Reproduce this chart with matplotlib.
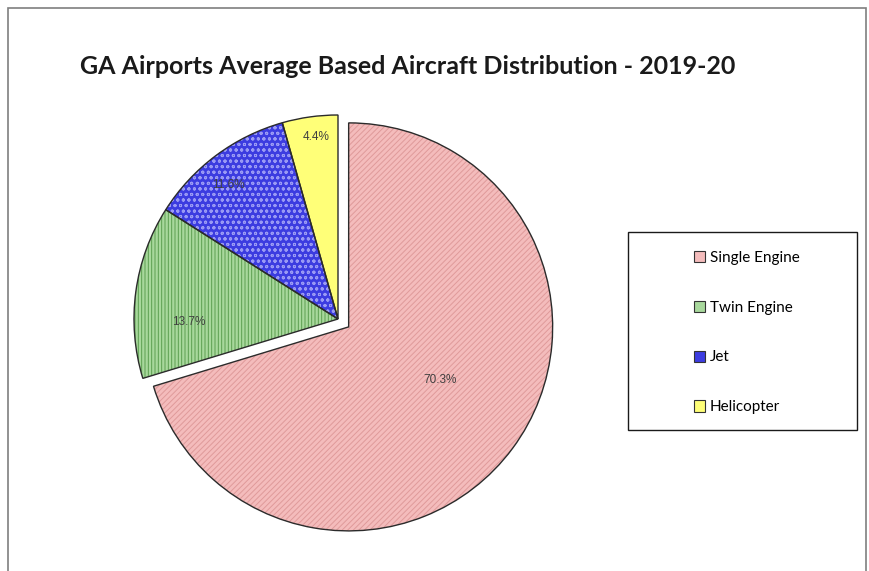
import numpy as np
import matplotlib
matplotlib.use("Agg")
import matplotlib.pyplot as plt
from matplotlib.patches import Rectangle, Patch

# Доли парка базовой авиации (в процентах)
categories = ["Single Engine", "Twin Engine", "Jet", "Helicopter"]
shares = [70.3, 13.7, 11.6, 4.4]

face_colors = ["#f4bcbc", "#a8d89c", "#3c3ce0", "#ffff78"]
hatch_colors = ["#df9a9a", "#5c9e50", "#9a9af4", "#ffff78"]
hatches = ["//////", "|||||", "ooo", ""]
explode = [0.065, 0, 0, 0]

plt.rcParams["hatch.linewidth"] = 0.7

W, H = 869, 571
fig = plt.figure(figsize=(W / 100, H / 100), dpi=100)
fig.patch.set_facecolor("white")

# Оси на всю фигуру: 1 единица = радиус круга в пикселях
R = 204.0
cx, cy = 338.0, 319.0
ax = fig.add_axes([0, 0, 1, 1])

wedges, _ = ax.pie(shares, colors=face_colors, startangle=90, counterclock=False,
                   explode=explode, wedgeprops=dict(linewidth=0))
for w, hc, h in zip(wedges, hatch_colors, hatches):
    w.set_hatch(h)
    w.set_edgecolor(hc)
    w.set_linewidth(0)

# Контуры секторов поверх штриховки
outline, _ = ax.pie(shares, startangle=90, counterclock=False, explode=explode,
                    wedgeprops=dict(fill=False, edgecolor="#2b2b2b", linewidth=1.0))

ax.set_xlim(-cx / R, (W - cx) / R)
ax.set_ylim(-(H - cy) / R, cy / R)
ax.set_aspect("equal", adjustable="datalim")
ax.axis("off")

# Подписи процентов: радиус и сдвиг угла для каждого сектора
label_r = [0.52, 0.73, 0.85, 0.90]
label_shift = [6.5, 9.0, 2.5, -1.0]
for w, val, lr, sh in zip(wedges, shares, label_r, label_shift):
    mid = np.deg2rad((w.theta1 + w.theta2) / 2 + sh)
    x0, y0 = w.center
    ax.text(x0 + lr * np.cos(mid), y0 + lr * np.sin(mid), f"{val:.1f}%",
            ha="center", va="center", fontsize=8.5, color="#404040",
            family="Liberation Sans")

# Заголовок
fig.text(80 / W, 1 - 66 / H, "GA Airports Average Based Aircraft Distribution - 2019-20",
         ha="left", va="center", fontsize=18, fontweight="bold", color="#1a1a1a",
         family="Lato")

# Рамка всей диаграммы
fig.add_artist(Rectangle((8 / W, -0.02), (866 - 8) / W, (H - 8) / H + 0.02,
                         transform=fig.transFigure, fill=False,
                         edgecolor="#7f7f7f", linewidth=1.2))

# Рамка легенды
fig.add_artist(Rectangle((628 / W, 1 - 430 / H), (857 - 628) / W, (430 - 232) / H,
                         transform=fig.transFigure, fill=False,
                         edgecolor="#1a1a1a", linewidth=1.0))

handles = [Patch(facecolor=fc, edgecolor="#333333", linewidth=0.8) for fc in face_colors]
fig.legend(handles, categories, loc="upper left",
           bbox_to_anchor=(686 / W, 1 - 243 / H), frameon=False,
           handlelength=0.75, handleheight=0.75, handletextpad=0.3,
           labelspacing=2.35, borderpad=0, prop=dict(family="Lato", size=11))

fig.savefig("out.png", dpi=100, facecolor="white")
